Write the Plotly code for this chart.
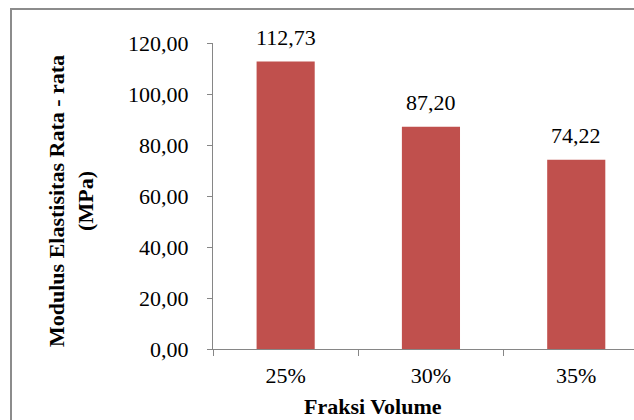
import plotly.graph_objects as go

# Average elastic modulus by fibre volume fraction
categories = ["25%", "30%", "35%"]
modulus = [112.73, 87.20, 74.22]
y_ticks = [0, 20, 40, 60, 80, 100, 120]

W, H = 634, 420
L, R, T, B = 213, 0, 43, 71
plot_w = W - L - R
plot_h = H - T - B

FONT = "'Liberation Serif', 'Times New Roman', Times, serif"
BAR = "#C0504D"
AXIS = "#868686"
FS = 22


def px_x(px):
    return (px - L) / plot_w


def px_y(py):
    return (H - B - py) / plot_h


fig = go.Figure(
    go.Bar(
        x=categories,
        y=modulus,
        width=0.4,
        marker=dict(color=BAR, line=dict(width=0)),
        hoverinfo="skip",
    )
)

# value labels above each bar
for c, v in zip(categories, modulus):
    fig.add_annotation(
        x=c, y=v, text=f"{v:.2f}".replace(".", ","),
        showarrow=False, yanchor="middle", yshift=24,
        font=dict(family=FONT, size=FS, color="black"),
    )

# y-axis title (two lines, rotated)
fig.add_annotation(
    xref="paper", yref="paper", x=px_x(71), y=px_y(201),
    text="<b>Modulus Elastisitas Rata - rata<br>(MPa)</b>",
    textangle=-90, showarrow=False, xanchor="center", yanchor="middle",
    font=dict(family=FONT, size=FS, color="black"),
)

# x-axis title
fig.add_annotation(
    xref="paper", yref="paper", x=px_x(373), y=px_y(406),
    text="<b>Fraksi Volume</b>", showarrow=False,
    xanchor="center", yanchor="middle",
    font=dict(family=FONT, size=FS, color="black"),
)

# chart-area border
fig.add_shape(
    type="rect", xref="paper", yref="paper",
    x0=px_x(11), x1=px_x(W + 20), y0=px_y(H + 20), y1=px_y(9),
    line=dict(color="#8C8C8C", width=2), fillcolor="rgba(0,0,0,0)",
    layer="below",
)

fig.update_layout(
    width=W, height=H,
    margin=dict(l=L, r=R, t=T, b=B, pad=0),
    paper_bgcolor="white", plot_bgcolor="white",
    separators=",.",
    showlegend=False,
    font=dict(family=FONT, size=FS, color="black"),
    xaxis=dict(
        type="category",
        range=[-0.5, -0.5 + plot_w / 145.3],
        showline=True, linecolor=AXIS, linewidth=1,
        ticks="outside", ticklen=6, tickcolor=AXIS, tickwidth=1,
        tickson="boundaries",
        showgrid=False, zeroline=False,
        tickfont=dict(family=FONT, size=FS, color="black"),
        ticklabelstandoff=7,
        fixedrange=True,
    ),
    yaxis=dict(
        range=[0, 120],
        tickvals=y_ticks,
        tickformat=".2f",
        showline=True, linecolor=AXIS, linewidth=1,
        ticks="outside", ticklen=5, tickcolor=AXIS, tickwidth=1,
        showgrid=False, zeroline=False,
        tickfont=dict(family=FONT, size=FS, color="black"),
        ticklabelstandoff=14,
        fixedrange=True,
    ),
)

fig.write_html("out.html", config=dict(displayModeBar=False))
